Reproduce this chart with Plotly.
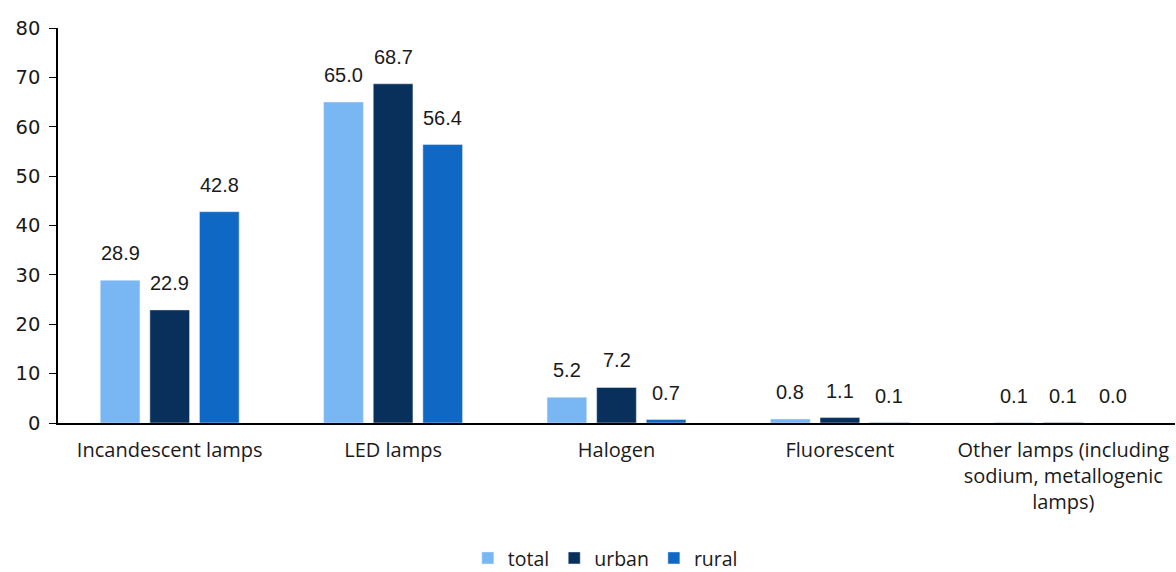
import plotly.graph_objects as go

categories = ["Incandescent lamps", "LED lamps", "Halogen", "Fluorescent",
              "Other lamps (including<br>sodium, metallogenic<br>lamps)"]
total = [28.9, 65.0, 5.2, 0.8, 0.1]
urban = [22.9, 68.7, 7.2, 1.1, 0.1]
rural = [42.8, 56.4, 0.7, 0.1, 0.0]
y_ticks = [0, 10, 20, 30, 40, 50, 60, 70, 80]

series = [("total", total, "#79B7F4"), ("urban", urban, "#08305A"), ("rural", rural, "#0F68C3")]
BARGAP = 0.334

fig = go.Figure()
n = len(series)
slot = (1 - BARGAP) / n
for j, (name, vals, color) in enumerate(series):
    fig.add_trace(go.Bar(x=categories, y=vals, name=name, marker_color=color))
    for ci, v in enumerate(vals):
        fig.add_annotation(
            x=ci + (j - (n - 1) / 2) * slot, y=v, xref="x", yref="y",
            text=f"{v:.1f}", showarrow=False, yanchor="bottom", yshift=14,
            font=dict(family="Liberation Sans, Arial, sans-serif", size=20, color="#1a1a1a"),
        )

fig.update_layout(
    width=1176, height=572,
    margin=dict(l=58, r=1, t=28, b=149),
    barmode="group", bargap=BARGAP, bargroupgap=0.2,
    plot_bgcolor="white", paper_bgcolor="white",
    font=dict(family="Open Sans, sans-serif", size=20, color="#1a1a1a"),
    legend=dict(orientation="h", x=0.49, xanchor="center",
                yref="container", y=0.024, yanchor="middle",
                font=dict(family="Open Sans, sans-serif", size=19.5), itemwidth=30,
                traceorder="normal"),
    showlegend=True,
)
fig.update_yaxes(range=[0, 80], tickvals=y_ticks, showgrid=False, zeroline=False,
                 showline=True, linecolor="black", linewidth=1.5,
                 ticks="outside", ticklen=7, tickcolor="black", ticklabelstandoff=5,
                 tickfont=dict(family="DejaVu Sans, sans-serif", size=19.5, color="#1a1a1a"))
fig.update_xaxes(showgrid=False, showline=True, linecolor="black", linewidth=1.5,
                 ticks="", tickangle=0, ticklabelstandoff=8,
                 tickfont=dict(family="Open Sans, sans-serif", size=20, color="#1a1a1a"))

fig.write_html("out.html", config={"displayModeBar": False},
               post_script="document.body.style.margin='0';")
